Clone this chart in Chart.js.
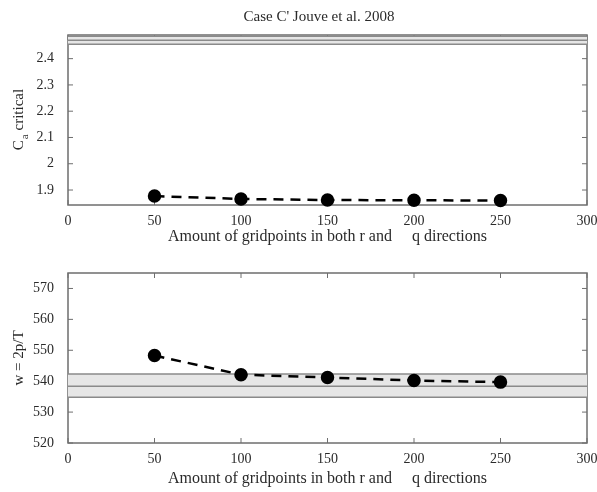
<!DOCTYPE html>
<html>
<head>
<meta charset="utf-8">
<script src="https://cdn.jsdelivr.net/npm/chart.js@4/dist/chart.umd.min.js"></script>
<style>
  html, body { margin: 0; padding: 0; background: #fff; }
  #wrap { position: relative; width: 597px; height: 492px; overflow: hidden; }
  #top { position: absolute; left: 0; top: 0; }
  #bottom { position: absolute; left: 0; top: 250px; }
</style>
</head>
<body>
<div id="wrap">
  <canvas id="top" width="600" height="250"></canvas>
  <canvas id="bottom" width="600" height="242"></canvas>
</div>
<script>
// grid resolution runs
const gridpoints = [50, 100, 150, 200, 250];
// critical C_a for each resolution
const caCritical = [1.877, 1.866, 1.862, 1.861, 1.860];
// frequency for each resolution
const omegaValues = [548.3, 542.1, 541.2, 540.2, 539.7];

// reference bands (low, mid, high)
const caBand = [2.455, 2.47, 2.485];
const omegaBand = [534.8, 538.4, 542.3];

const xTicks = [0, 50, 100, 150, 200, 250, 300];
const caTicks = [1.9, 2, 2.1, 2.2, 2.3, 2.4];
const omegaTicks = [520, 530, 540, 550, 560, 570];

const titleText = "Case C' Jouve et al. 2008";
const xTitle = 'Amount of gridpoints in both r and     q directions';

const FONT = "'Liberation Serif', 'DejaVu Serif', serif";
const INK = '#2a2a2a';
const FRAME = '#6e6e6e';

function bandSets(band) {
  const line = v => [{x: 0, y: v}, {x: 300, y: v}];
  const common = {borderColor: '#8a8a8a', borderWidth: 1.5, pointRadius: 0, backgroundColor: '#e6e6e6', order: 2};
  return [
    Object.assign({data: line(band[0]), fill: false}, common),
    Object.assign({data: line(band[1]), fill: '-1'}, common),
    Object.assign({data: line(band[2]), fill: '-1'}, common)
  ];
}

// inward tick marks on all four sides, plus the text drawn by hand
const framePlugin = {
  id: 'frame',
  beforeDatasetsDraw(chart, args, opts) {
    const ctx = chart.ctx;
    const a = chart.chartArea;
    const xs = chart.scales.x, ys = chart.scales.y;
    ctx.save();
    ctx.strokeStyle = FRAME;
    ctx.lineWidth = 1.5;
    ctx.strokeRect(a.left, a.top, a.right - a.left, a.bottom - a.top);
    ctx.lineWidth = 1;
    ctx.beginPath();
    xTicks.forEach(v => {
      const px = xs.getPixelForValue(v);
      ctx.moveTo(px, a.bottom); ctx.lineTo(px, a.bottom - 5);
      ctx.moveTo(px, a.top); ctx.lineTo(px, a.top + 5);
    });
    opts.yTicks.forEach(v => {
      const py = ys.getPixelForValue(v);
      ctx.moveTo(a.left, py); ctx.lineTo(a.left + 5, py);
      ctx.moveTo(a.right, py); ctx.lineTo(a.right - 5, py);
    });
    ctx.stroke();

    ctx.fillStyle = INK;
    if (opts.title) {
      ctx.font = '15px ' + FONT;
      ctx.textAlign = 'center';
      ctx.textBaseline = 'middle';
      ctx.fillText(opts.title, 319, 17);
    }
    // rotated y label, with optional subscript after the first letter
    ctx.translate(19, (a.top + a.bottom) / 2);
    ctx.rotate(-Math.PI / 2);
    ctx.textBaseline = 'middle';
    ctx.font = '15px ' + FONT;
    if (opts.sub) {
      const w0 = ctx.measureText(opts.yLabel[0]).width;
      ctx.font = '11px ' + FONT;
      const ws = ctx.measureText(opts.sub).width;
      ctx.font = '15px ' + FONT;
      const wr = ctx.measureText(opts.yLabel.slice(1)).width;
      let x = -(w0 + ws + wr) / 2;
      ctx.textAlign = 'left';
      ctx.fillText(opts.yLabel[0], x, 0);
      ctx.font = '11px ' + FONT;
      ctx.fillText(opts.sub, x + w0 + 1, 6);
      ctx.font = '15px ' + FONT;
      ctx.fillText(opts.yLabel.slice(1), x + w0 + ws + 1, 0);
    } else {
      ctx.textAlign = 'center';
      ctx.fillText(opts.yLabel, 0, 0);
    }
    ctx.restore();
  }
};

function makeChart(id, values, band, yMin, yMax, yTicks, padTop, xHeight, titlePad, frameOpts) {
  return new Chart(document.getElementById(id), {
    type: 'line',
    data: {
      datasets: bandSets(band).concat([{
        data: gridpoints.map((g, i) => ({x: g, y: values[i]})),
        borderColor: '#000',
        borderWidth: 2.5,
        borderDash: [10, 7],
        pointRadius: 5.5,
        pointBackgroundColor: '#000',
        pointBorderColor: '#000',
        fill: false,
        clip: false,
        order: 0
      }])
    },
    options: {
      responsive: false,
      animation: false,
      layout: {padding: {top: padTop, right: 13, left: 0, bottom: 0}},
      plugins: {
        legend: {display: false},
        tooltip: {enabled: false},
        frame: frameOpts
      },
      scales: {
        x: {
          type: 'linear',
          min: 0, max: 300,
          afterBuildTicks: s => { s.ticks = xTicks.map(v => ({value: v})); },
          afterFit: s => { s.height = xHeight; },
          grid: {display: false},
          border: {display: false},
          ticks: {color: INK, font: {family: FONT, size: 14}, padding: 0, maxRotation: 0},
          title: {display: true, text: xTitle, color: INK, font: {family: FONT, size: 16}, padding: {top: titlePad}}
        },
        y: {
          min: yMin, max: yMax,
          afterBuildTicks: s => { s.ticks = yTicks.map(v => ({value: v})); },
          afterFit: s => { s.width = 68; },
          grid: {display: false},
          border: {display: false},
          ticks: {color: INK, font: {family: FONT, size: 14}, padding: 6, callback: v => String(v)}
        }
      }
    },
    plugins: [framePlugin]
  });
}

makeChart('top', caCritical, caBand, 1.843, 2.49, caTicks, 35, 45, 2,
  {yTicks: caTicks, yLabel: 'C critical', sub: 'a', title: titleText});
makeChart('bottom', omegaValues, omegaBand, 520, 575, omegaTicks, 23, 49, 1,
  {yTicks: omegaTicks, yLabel: 'w = 2p/T'});
</script>
</body>
</html>
